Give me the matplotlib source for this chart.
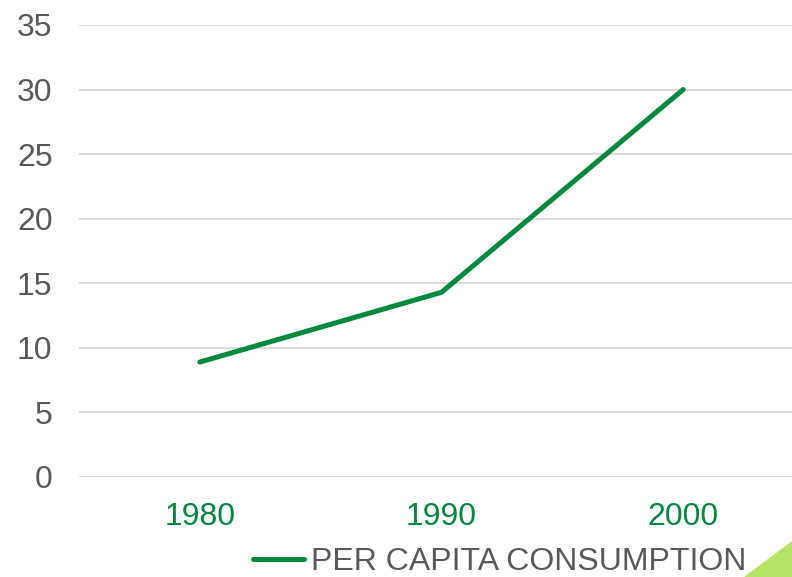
import matplotlib.pyplot as plt
from matplotlib.patches import Polygon

plt.rcParams['font.family'] = ['Liberation Sans', 'DejaVu Sans']

# データ
years = ["1980", "1990", "2000"]
per_capita = [8.9, 14.3, 30.0]
y_ticks = [0, 5, 10, 15, 20, 25, 30, 35]

line_color = "#00883e"
text_gray = "#595959"

fig = plt.figure(figsize=(7.92, 5.77), dpi=100)
ax = fig.add_axes([79 / 792, 1 - 477 / 577, (804 - 79) / 792, (477 - 25) / 577])

x = list(range(len(years)))
ax.plot(x, per_capita, color=line_color, linewidth=3.6, solid_capstyle="round",
        label="PER CAPITA CONSUMPTION")

ax.set_xlim(-0.5, len(years) - 0.5)
ax.set_ylim(0, 35)
ax.set_yticks(y_ticks)
ax.set_xticks(x)
ax.set_xticklabels(years)
ax.grid(axis="y", color="#d9d9d9", linewidth=1.3)
ax.set_axisbelow(True)
for s in ax.spines.values():
    s.set_visible(False)
ax.tick_params(axis="y", length=0, pad=19, labelsize=23, labelcolor=text_gray)
ax.tick_params(axis="x", length=0, pad=18, labelsize=23, labelcolor=line_color)

fig.legend(loc="center", bbox_to_anchor=(500 / 792, 1 - 562 / 577), frameon=False,
           fontsize=23, handlelength=1.6, handletextpad=0.22, labelcolor=text_gray,
           borderpad=0, borderaxespad=0)

# 右下の装飾三角形
tri = Polygon([(745 / 792, 0), (1, 35 / 577), (1, 0)], closed=True,
              transform=fig.transFigure, color="#b8e466", zorder=5)
fig.patches.append(tri)

plt.savefig("out.png", dpi=100)
plt.close()
